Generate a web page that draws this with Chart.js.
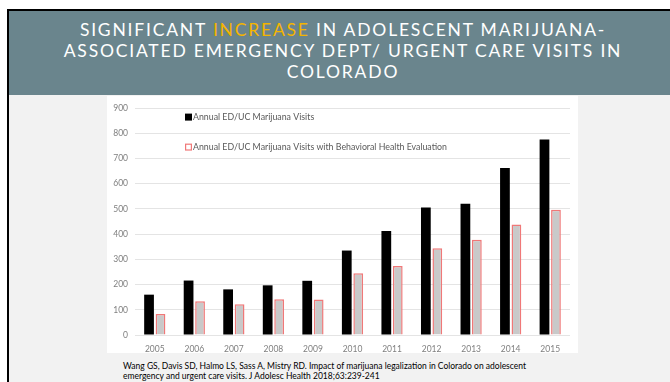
<!DOCTYPE html>
<html>
<head>
<meta charset="utf-8">
<script src="https://cdn.jsdelivr.net/npm/chart.js@4/dist/chart.umd.min.js"></script>
<style>
  html, body { margin: 0; padding: 0; background: #ffffff; }
  body { width: 670px; height: 382px; position: relative; overflow: hidden; }
  #slide {
    position: absolute; left: 7px; top: 9px; width: 670px; height: 380px;
    border-left: 2px solid #000; border-top: 2px solid #000;
    background: #f2f2f2;
  }
  #band {
    position: absolute; left: 0; top: 0; width: 100%; height: 84px;
    background: #6a858d;
  }
  #title {
    position: absolute; left: 0; top: 8px; width: 668px;
    text-align: center; color: #ffffff;
    font-family: Lato, "Open Sans", sans-serif; font-size: 17.5px; line-height: 21px;
    letter-spacing: 1.8px;
  }
  #title .hl { color: #f4b400; }
  #panel {
    position: absolute; left: 98px; top: 85px; width: 471px; height: 257px;
    background: #ffffff;
  }
  #cite {
    position: absolute; left: 114px; top: 350px; width: 540px;
    font-family: Lato, sans-serif; font-size: 8.5px; line-height: 10px; color: #000;
  }
</style>
</head>
<body>
<div id="slide">
  <div id="band">
    <div id="title">SIGNIFICANT <span class="hl">INCREASE</span> IN ADOLESCENT MARIJUANA-<br>ASSOCIATED EMERGENCY DEPT/ URGENT CARE VISITS IN<br>COLORADO</div>
  </div>
  <div id="panel"><canvas id="c" width="471" height="257"></canvas></div>
  <div id="cite">Wang GS, Davis SD, Halmo LS, Sass A, Mistry RD. Impact of marijuana legalization in Colorado on adolescent<br>emergency and urgent care visits. J Adolesc Health 2018;63:239-241</div>
</div>
<script>
// Adolescent marijuana-associated ED/UC visits in Colorado, by year
const years = ['2005','2006','2007','2008','2009','2010','2011','2012','2013','2014','2015'];
const annualVisits = [160, 216, 181, 197, 215, 335, 413, 506, 521, 662, 775];
const behavioralVisits = [83, 134, 122, 142, 141, 245, 274, 344, 378, 438, 497];
const seriesLabels = ['Annual ED/UC Marijuana Visits', 'Annual ED/UC Marijuana Visits with Behavioral Health Evaluation'];
const yTicks = [0, 100, 200, 300, 400, 500, 600, 700, 800, 900];

const tickFont = { family: 'Lato, "Open Sans", sans-serif', size: 8.5 };

// Legend drawn as two stacked rows inside the plot area
const stackedLegend = {
  id: 'stackedLegend',
  afterDraw(chart) {
    const ctx = chart.ctx;
    const area = chart.chartArea;
    ctx.save();
    ctx.font = '8.8px Lato, "Open Sans", sans-serif';
    ctx.textBaseline = 'middle';
    chart.data.datasets.forEach((ds, i) => {
      const x = area.left + 50;
      const y = area.top + 9 + i * 30;
      if (ds.borderWidth) {
        ctx.fillStyle = '#ffffff';
        ctx.fillRect(x, y - 3.5, 7, 7);
        ctx.strokeStyle = ds.borderColor;
        ctx.lineWidth = 1.2;
        ctx.strokeRect(x + 0.6, y - 2.9, 5.8, 5.8);
      } else {
        ctx.fillStyle = ds.backgroundColor;
        ctx.fillRect(x, y - 3.5, 7, 7);
      }
      ctx.fillStyle = '#595959';
      ctx.fillText(ds.label, x + 8, y + 0.5);
    });
    ctx.restore();
  }
};

new Chart(document.getElementById('c'), {
  type: 'bar',
  data: {
    labels: years,
    datasets: [
      {
        label: seriesLabels[0],
        data: annualVisits,
        backgroundColor: '#000000',
        borderWidth: 0,
        categoryPercentage: 0.58,
        barPercentage: 0.85
      },
      {
        label: seriesLabels[1],
        data: behavioralVisits,
        backgroundColor: '#c9c9c9',
        borderColor: '#f07878',
        borderWidth: 1.5,
        categoryPercentage: 0.58,
        barPercentage: 0.85
      }
    ]
  },
  options: {
    responsive: false,
    devicePixelRatio: 1,
    animation: false,
    layout: { padding: { left: 0, right: 8, top: 10, bottom: 0 } },
    plugins: {
      legend: { display: false },
      tooltip: { enabled: false }
    },
    scales: {
      x: {
        grid: { display: false, drawTicks: false },
        border: { display: false },
        ticks: { color: '#7f7f7f', font: tickFont, padding: 9 },
        afterFit(scale) { scale.height = 18; }
      },
      y: {
        min: 0,
        max: 900,
        afterBuildTicks(scale) { scale.ticks = yTicks.map(v => ({ value: v })); },
        grid: { color: '#e4e4e4', lineWidth: 1, drawTicks: false },
        border: { display: false },
        ticks: { color: '#7f7f7f', font: tickFont, padding: 7 },
        afterFit(scale) { scale.width = 28; }
      }
    }
  },
  plugins: [stackedLegend]
});
</script>
</body>
</html>
